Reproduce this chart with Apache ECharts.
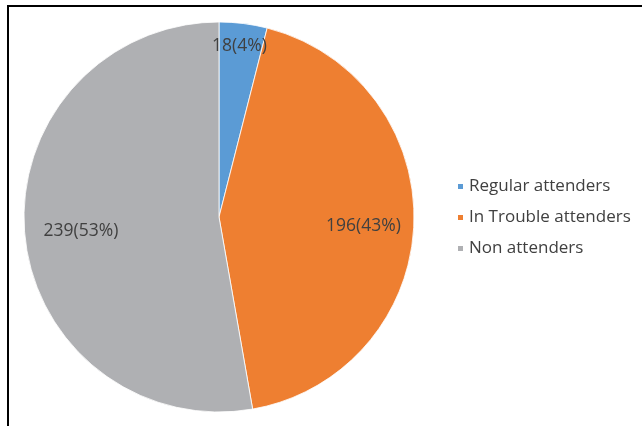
<!DOCTYPE html>
<html>
<head>
<meta charset="utf-8">
<script src="https://cdn.jsdelivr.net/npm/echarts@6/dist/echarts.min.js"></script>
<style>
html,body{margin:0;padding:0;background:#fff;}
#chart{position:absolute;left:0;top:0;width:642px;height:426px;}
#frame{position:absolute;left:7px;top:5px;width:700px;height:500px;border-left:2px solid #000;border-top:2px solid #000;pointer-events:none;}
</style>
</head>
<body>
<div id="chart"></div>
<div id="frame"></div>
<script>
const categories = ['Regular attenders', 'In Trouble attenders', 'Non attenders'];
const values = [18, 196, 239];
const colors = ['#5B9BD5', '#EE7F31', '#AFB0B3'];
const labelOffsets = [[8, -71], [44, 5], [-38, 5]];

const total = values.reduce((a, b) => a + b, 0);
const chart = echarts.init(document.getElementById('chart'), null, {renderer: 'canvas'});
const font = '"Open Sans", "DejaVu Sans", sans-serif';

chart.setOption({
  animation: false,
  backgroundColor: 'transparent',
  color: colors,
  legend: {
    orient: 'vertical',
    left: 456,
    top: 178,
    padding: 0,
    icon: 'rect',
    itemWidth: 7,
    itemHeight: 7,
    itemGap: 14,
    textStyle: {fontFamily: font, fontSize: 17, color: '#404040', lineHeight: 16},
    data: categories
  },
  series: [{
    type: 'pie',
    center: [219, 217],
    radius: [0, 195],
    startAngle: 90,
    clockwise: true,
    avoidLabelOverlap: false,
    itemStyle: {borderColor: '#ffffff', borderWidth: 0.8},
    label: {
      show: true,
      position: 'inside',
      fontFamily: font,
      fontSize: 17.5,
      color: '#404040',
      formatter: p => p.value + '(' + Math.round(p.value / total * 100) + '%)'
    },
    labelLine: {show: false},
    emphasis: {disabled: true},
    data: categories.map((c, i) => ({
      name: c,
      value: values[i],
      label: {offset: labelOffsets[i]}
    }))
  }]
});
</script>
</body>
</html>
